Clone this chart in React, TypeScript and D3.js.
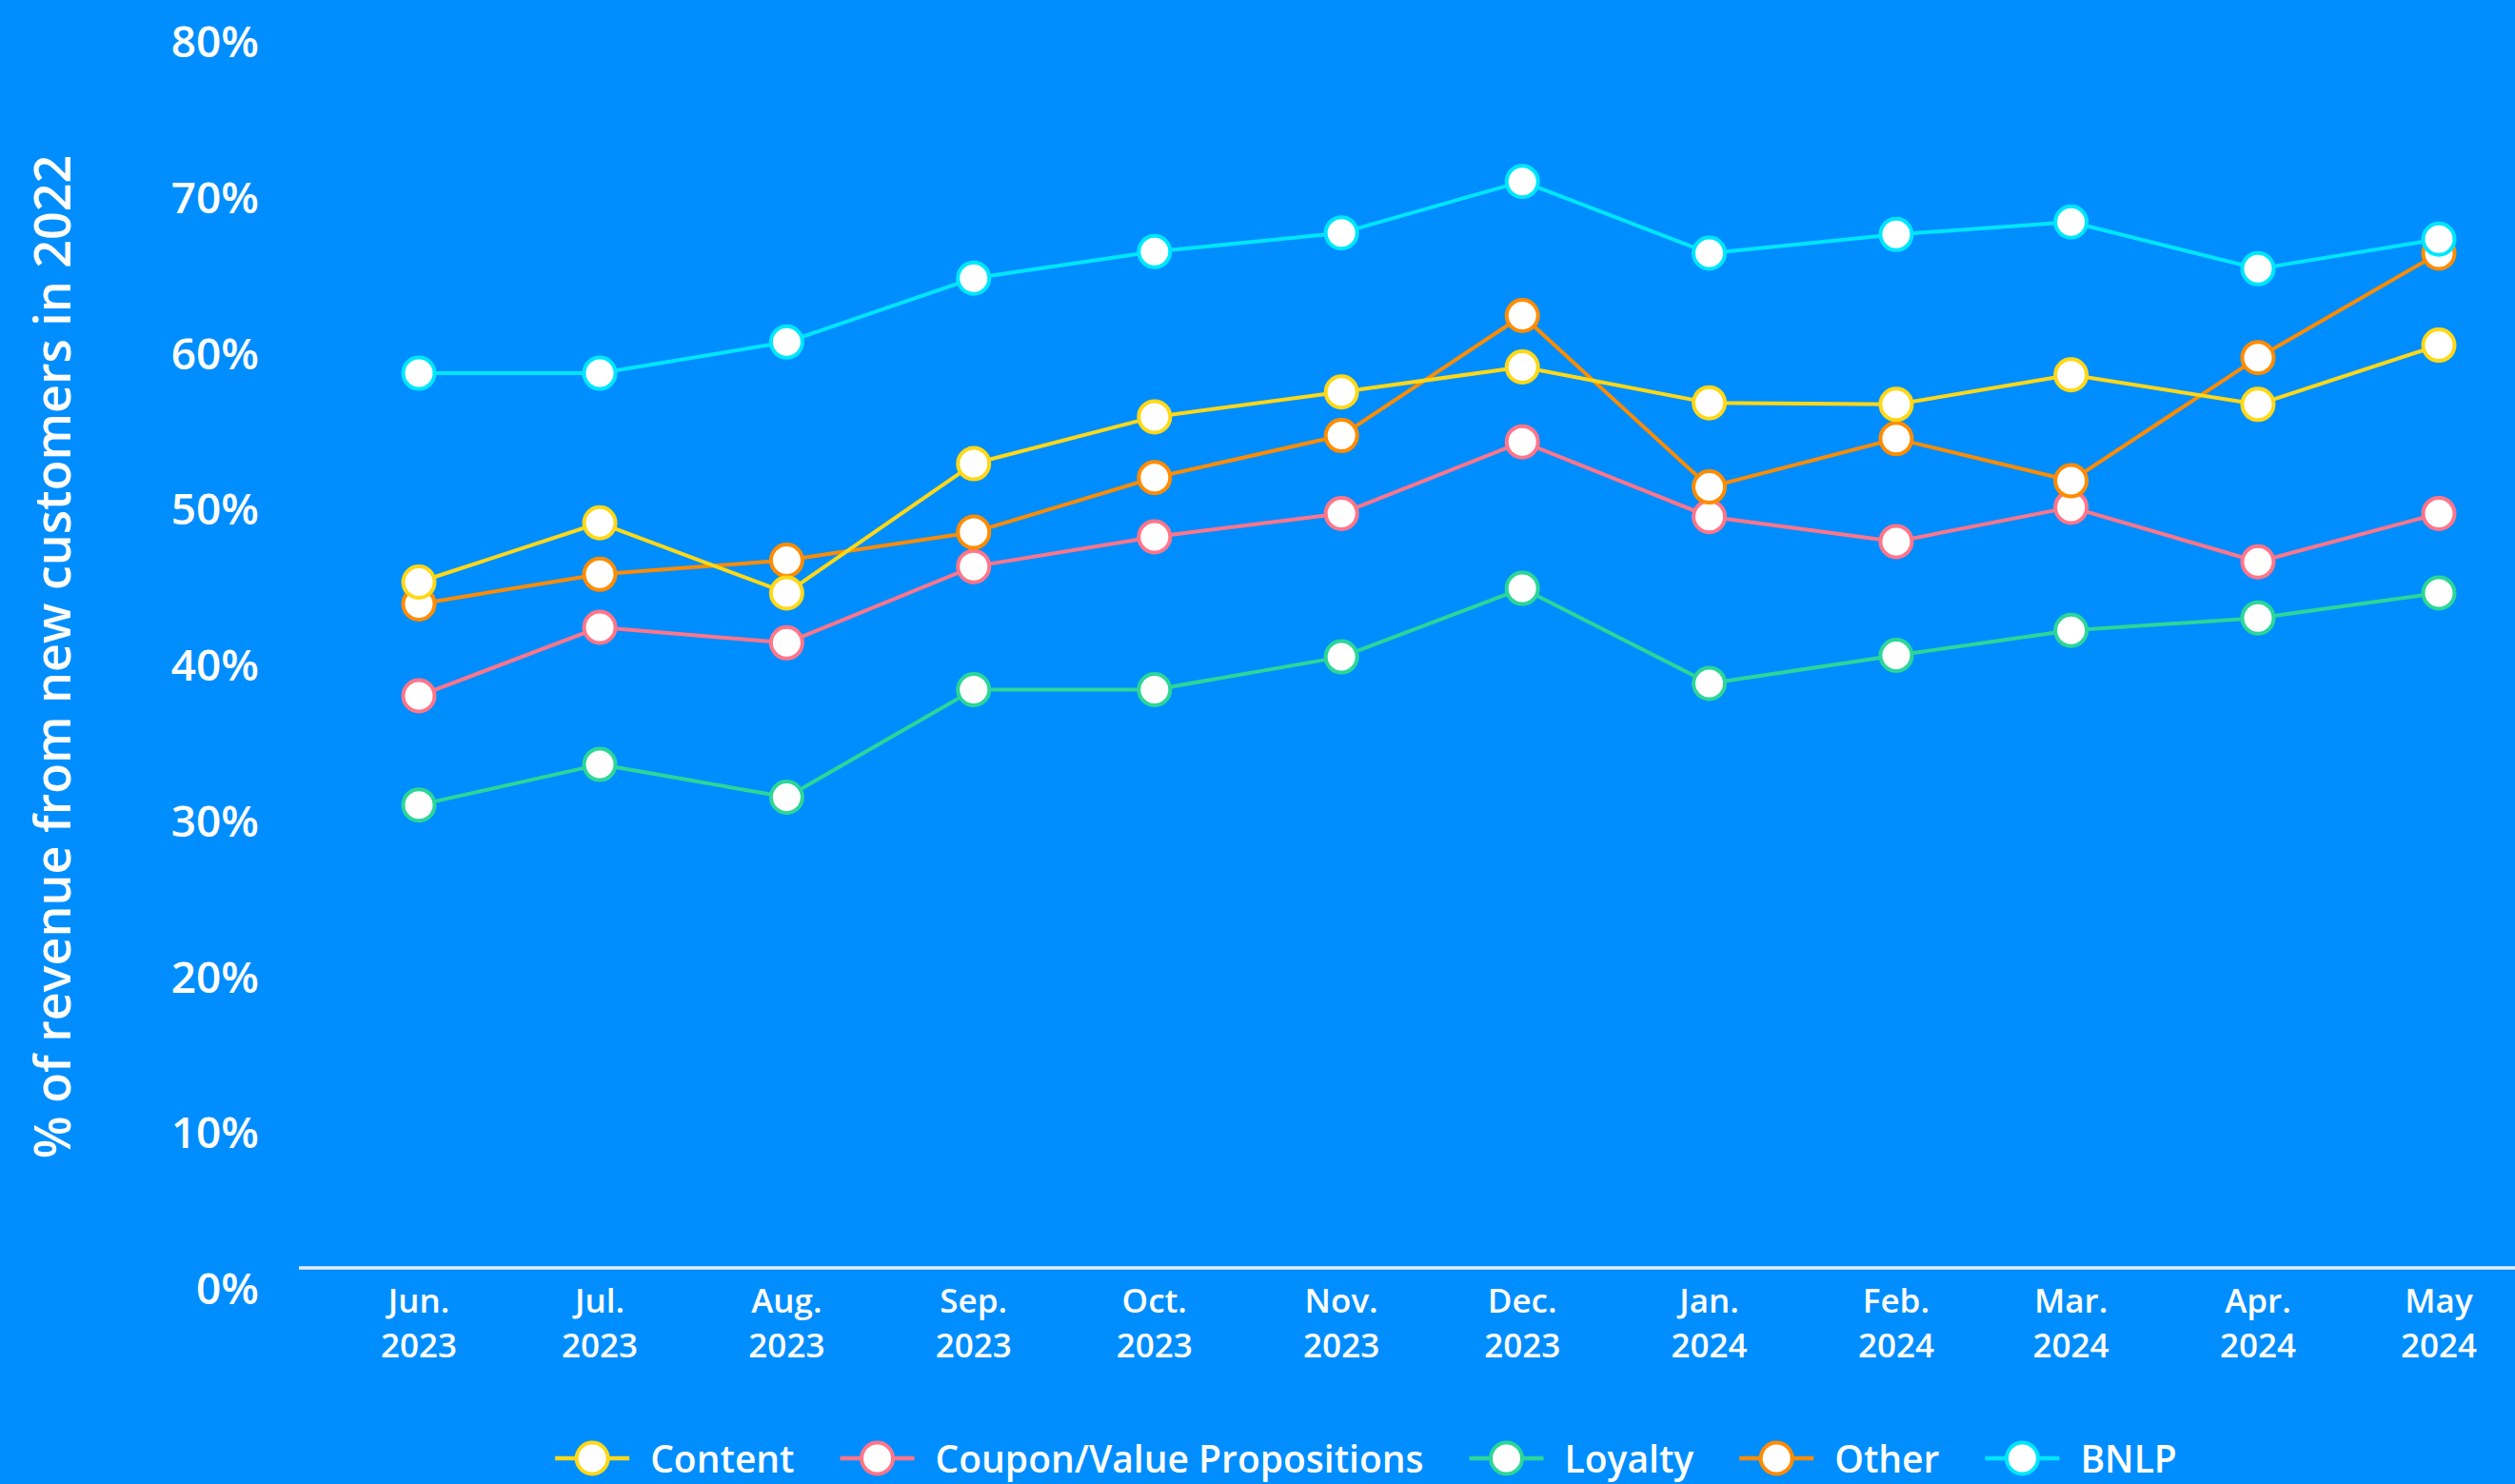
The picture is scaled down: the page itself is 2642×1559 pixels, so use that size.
import React, { useLayoutEffect, useRef, useState } from "react";
import * as d3 from "d3";

const WIDTH = 2642;
const HEIGHT = 1559;

// Categories: month starts and their two-line tick labels
const monthDates = [
  "2023-06-01", "2023-07-01", "2023-08-01", "2023-09-01", "2023-10-01", "2023-11-01",
  "2023-12-01", "2024-01-01", "2024-02-01", "2024-03-01", "2024-04-01", "2024-05-01",
];
const monthLabels = ["Jun.", "Jul.", "Aug.", "Sep.", "Oct.", "Nov.", "Dec.", "Jan.", "Feb.", "Mar.", "Apr.", "May"];
const yearLabels = ["2023", "2023", "2023", "2023", "2023", "2023", "2023", "2024", "2024", "2024", "2024", "2024"];

// Y axis ticks (percent)
const yTicks = [0, 10, 20, 30, 40, 50, 60, 70, 80];

// Series values, % of revenue from new customers
const contentValues = [44.0, 47.8, 43.3, 51.6, 54.6, 56.2, 57.8, 55.5, 55.4, 57.3, 55.4, 59.2];
const couponValues = [36.7, 41.1, 40.1, 45.0, 46.9, 48.4, 53.0, 48.2, 46.6, 48.8, 45.3, 48.4];
const loyaltyValues = [29.7, 32.3, 30.2, 37.1, 37.1, 39.2, 43.6, 37.5, 39.3, 40.9, 41.7, 43.3];
const otherValues = [42.6, 44.5, 45.4, 47.2, 50.7, 53.4, 61.1, 50.1, 53.2, 50.5, 58.4, 65.1];
const bnlpValues = [57.4, 57.4, 59.4, 63.5, 65.2, 66.4, 69.7, 65.1, 66.3, 67.1, 64.1, 66.0];

const seriesNames = ["Content", "Coupon/Value Propositions", "Loyalty", "Other", "BNLP"];
const seriesColors = ["#FFD817", "#FF7589", "#2CD698", "#FF8C00", "#00E6FF"];

const BG = "#008EFF";
const FONT = "'Open Sans', 'Noto Sans', sans-serif";

export default function App() {
  const parse = d3.timeParse("%Y-%m-%d");
  const dates = monthDates.map((s) => parse(s) as Date);

  const x = d3
    .scaleTime()
    .domain(d3.extent(dates) as [Date, Date])
    .range([440, 2562]);
  const y = d3.scaleLinear().domain([0, 80]).range([1332, 22]);

  const lineGen = d3
    .line<[Date, number]>()
    .x((d) => x(d[0]))
    .y((d) => y(d[1]));

  const allValues = [contentValues, couponValues, loyaltyValues, otherValues, bnlpValues];
  const series = seriesNames.map((name, i) => ({
    name,
    color: seriesColors[i],
    points: dates.map((d, j) => [d, allValues[i][j]] as [Date, number]),
  }));
  // paint order: Coupon, Loyalty, Other, Content, BNLP
  const paintOrder = [1, 2, 3, 0, 4];

  // Legend layout, driven by measured label widths
  const textRefs = useRef<(SVGTextElement | null)[]>([]);
  const [widths, setWidths] = useState<number[]>([155, 531, 137, 107, 92]);
  useLayoutEffect(() => {
    const w = textRefs.current.map((t, i) => (t ? t.getComputedTextLength() : widths[i]));
    if (w.some((v, i) => Math.abs(v - widths[i]) > 0.5)) setWidths(w);
  }, []);

  const swatchW = 78;
  const swatchGap = 22;
  const itemGap = 48;
  const legendTotal =
    widths.reduce((a, b) => a + b, 0) + seriesNames.length * (swatchW + swatchGap) + (seriesNames.length - 1) * itemGap;
  const legendCenter = 1435;
  let cursor = legendCenter - legendTotal / 2;
  const legendItems = seriesNames.map((name, i) => {
    const start = cursor;
    cursor += swatchW + swatchGap + widths[i] + itemGap;
    return { name, color: seriesColors[i], start };
  });
  const legendY = 1532;

  return (
    <svg
      width={WIDTH}
      height={HEIGHT}
      viewBox={`0 0 ${WIDTH} ${HEIGHT}`}
      style={{ position: "absolute", left: 0, top: 0, display: "block" }}
    >
      <rect x={0} y={0} width={WIDTH} height={HEIGHT} fill={BG} />

      {/* y-axis title */}
      <text
        transform={`translate(74, 690) rotate(-90)`}
        textAnchor="middle"
        fill="#fff"
        fontFamily={FONT}
        fontWeight={600}
        fontSize={52}
      >
        % of revenue from new customers in 2022
      </text>

      {/* y tick labels, hanging just below each tick level */}
      {yTicks.map((t) => (
        <text
          key={t}
          x={272}
          y={y(t) + 38}
          textAnchor="end"
          fill="#fff"
          fontFamily={FONT}
          fontWeight={600}
          fontSize={46}
        >
          {t}%
        </text>
      ))}

      {/* baseline */}
      <line x1={314} x2={WIDTH} y1={y(0)} y2={y(0)} stroke="#E9ECEF" strokeWidth={3.5} />

      {/* x tick labels */}
      {dates.map((d, i) => (
        <g key={i} fill="#fff" fontFamily={FONT} fontWeight={600} fontSize={35} textAnchor="middle">
          <text x={x(d)} y={1379}>
            {monthLabels[i]}
          </text>
          <text x={x(d)} y={1426}>
            {yearLabels[i]}
          </text>
        </g>
      ))}

      {/* series */}
      {paintOrder.map((si) => {
        const s = series[si];
        return (
          <g key={s.name}>
            <path d={lineGen(s.points) || ""} fill="none" stroke={s.color} strokeWidth={4} strokeLinejoin="round" />
            {s.points.map((p, j) => (
              <circle key={j} cx={x(p[0])} cy={y(p[1])} r={16.5} fill="#fff" stroke={s.color} strokeWidth={4} />
            ))}
          </g>
        );
      })}

      {/* legend */}
      {legendItems.map((it, i) => (
        <g key={it.name}>
          <line
            x1={it.start}
            x2={it.start + swatchW}
            y1={legendY}
            y2={legendY}
            stroke={it.color}
            strokeWidth={4.5}
          />
          <circle cx={it.start + swatchW / 2} cy={legendY} r={16.5} fill="#fff" stroke={it.color} strokeWidth={4} />
          <text
            ref={(el) => {
              textRefs.current[i] = el;
            }}
            x={it.start + swatchW + swatchGap}
            y={1547}
            fill="#fff"
            fontFamily={FONT}
            fontWeight={600}
            fontSize={39}
          >
            {it.name}
          </text>
        </g>
      ))}
    </svg>
  );
}
